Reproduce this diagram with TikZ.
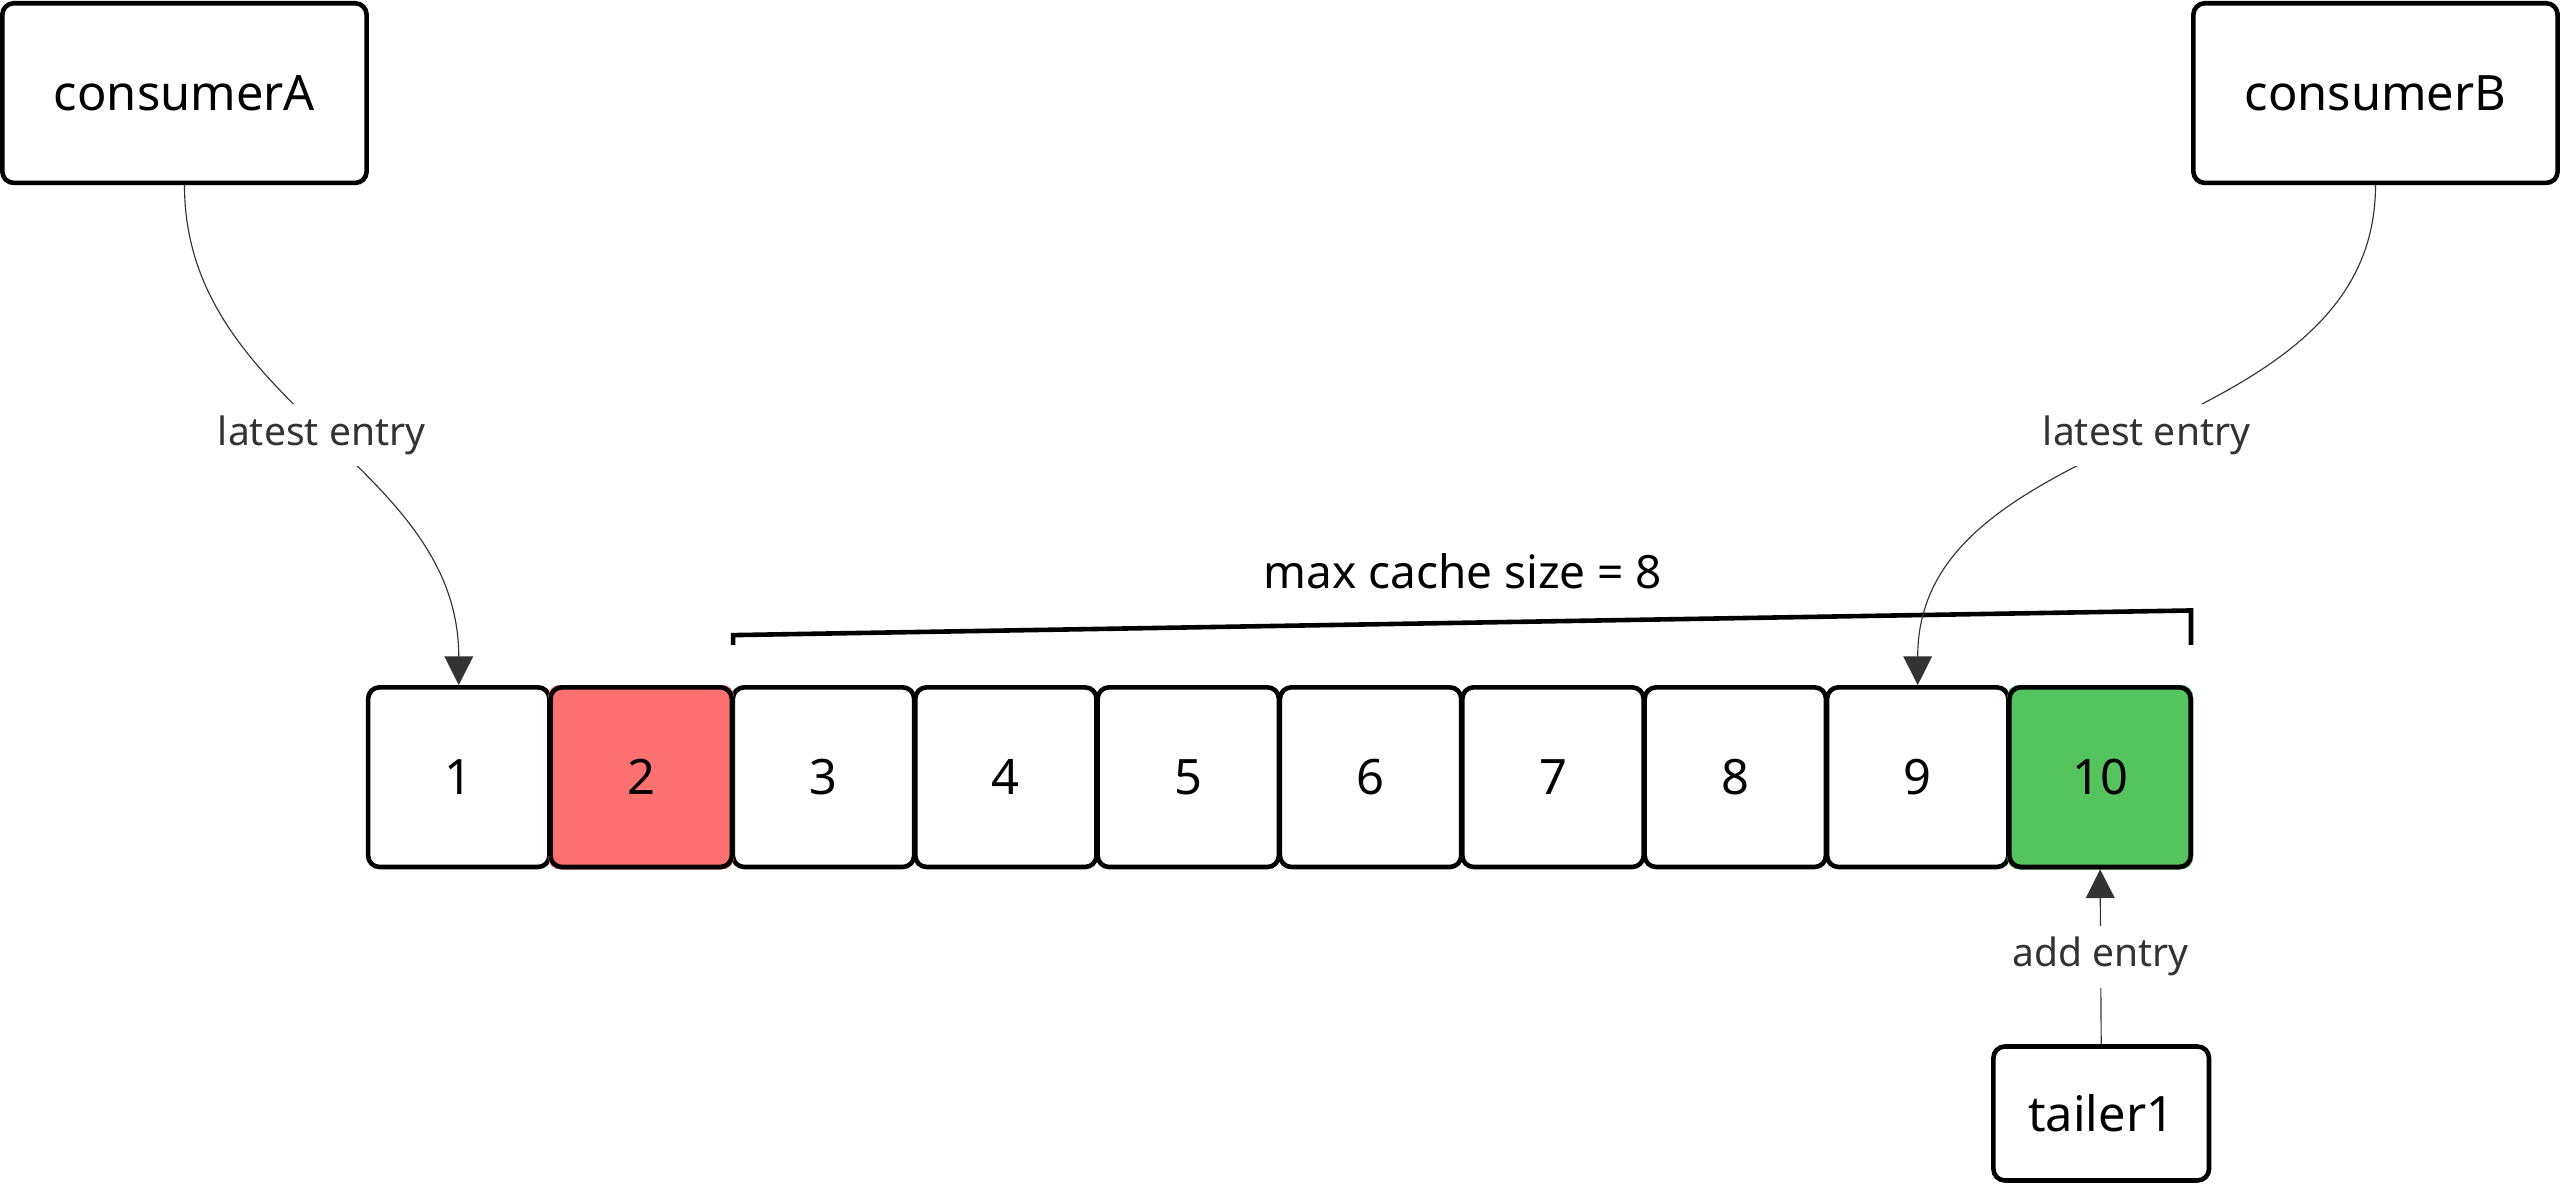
\documentclass[tikz,border=0pt]{standalone}
\usepackage{fontspec}
\setmainfont{Noto Sans}
\usetikzlibrary{arrows.meta,positioning}
\definecolor{cellred}{HTML}{FF7070}
\definecolor{cellgreen}{HTML}{55C45F}
\definecolor{linkgray}{HTML}{333333}
\begin{document}
\begin{tikzpicture}
      [x=0.01cm, y=-0.01cm,
      box style/.style={draw, thick, rectangle, rounded corners=2pt, align=center, font=\fontsize{8.5}{10}\selectfont, inner sep=0pt},
      cell style/.style={box style, minimum width=1.11cm, minimum height=1.1cm},
      link style/.style={draw=linkgray, very thin, -{Triangle[length=5pt,width=5pt]}},
      link label/.style={fill=white, inner sep=2pt, text=linkgray, font=\bfseries\fontsize{6.8}{8}\selectfont},
      ]
      \useasboundingbox (0,0) rectangle (1568,726);

      \node[box style, minimum width=2.23cm, minimum height=1.1cm] (consumerA) at (113,57) {consumerA};
      \node[box style, minimum width=2.23cm, minimum height=1.1cm] (consumerB) at (1455,57) {consumerB};
      \node[box style, minimum width=1.32cm, minimum height=0.82cm] (tailer1) at (1287,682) {tailer1};

      \foreach \i in {1,...,10} {
        \node[cell style] (c\i) at ({281+111.7*(\i-1)},476) {\i};
      }
      \fill[cellred, rounded corners=2pt] (c2.south west) rectangle (c2.north east);
      \node[cell style] at (c2) {2};
      \fill[cellgreen, rounded corners=2pt] (c10.south west) rectangle (c10.north east);
      \node[cell style] at (c10) {10};

      % brace over the cache
      \coordinate (braceL) at (449,395);
      \coordinate (braceR) at (1342,395);
      \draw[thick] (braceL) -- ++(0,-6) -- ([yshift=6]braceR) -- (braceR);
      \node[font=\fontsize{8}{10}\selectfont] (maxlabel) at (896,350) {max cache size = 8};

      \draw[link style] (consumerA.south) to[out=-90, in=90]
        node[link label, pos=0.5] {latest entry} (c1.north);
      \draw[link style] (consumerB.south) to[out=-90, in=90]
        node[link label, pos=0.5] {latest entry} (c9.north);
      \draw[link style] (tailer1.north) -- node[link label] {add entry} (c10.south);
\end{tikzpicture}
\end{document}
